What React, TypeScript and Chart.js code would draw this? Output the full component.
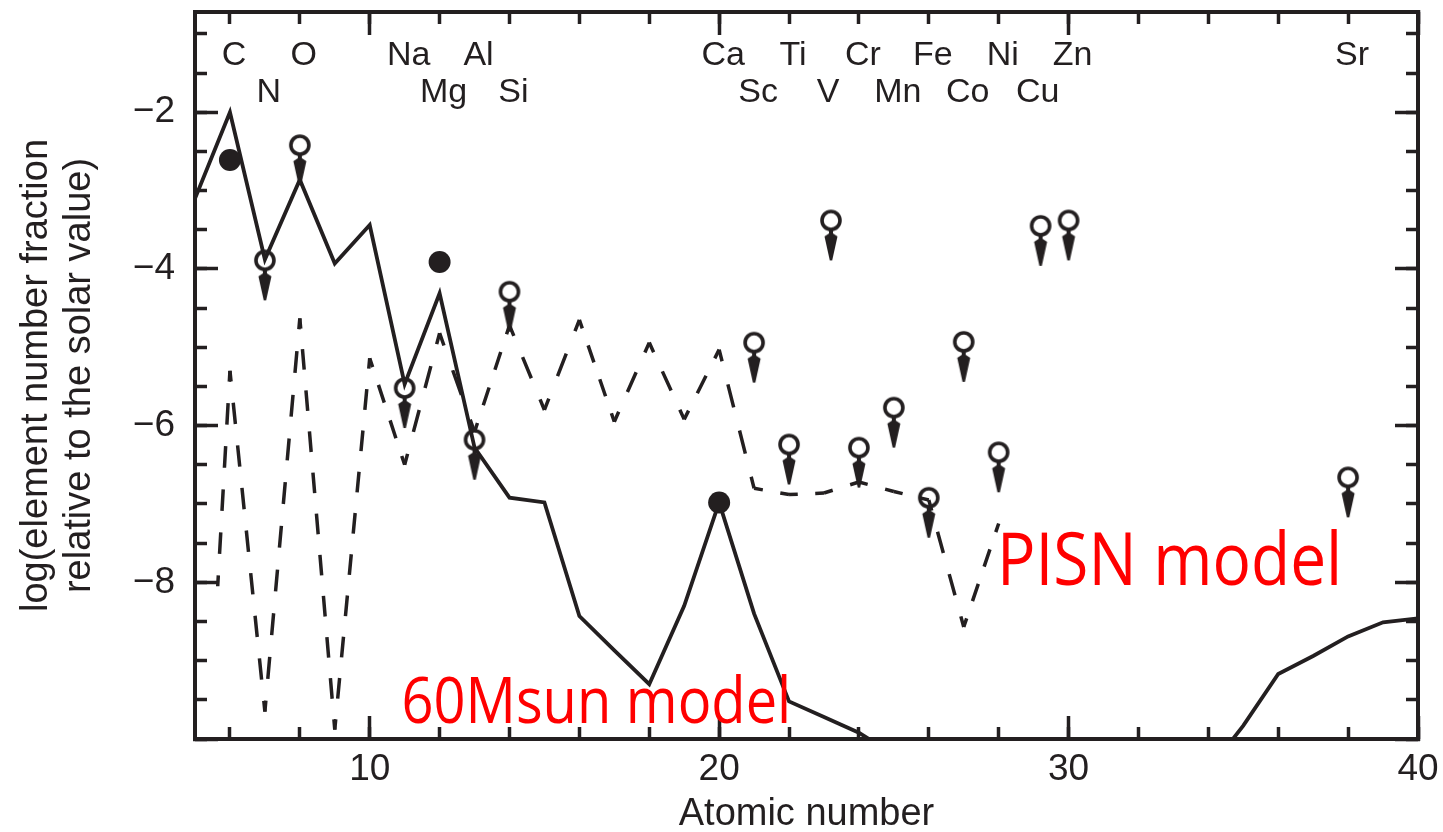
import React, { useEffect, useRef } from 'react';
import { Chart, registerables } from 'chart.js';

Chart.register(...registerables);

const INK = '#231f20';
const RED = '#ff0000';
const FONT = '"Liberation Sans", Arial, Helvetica, sans-serif';
const LABEL_FONT = '"Open Sans", "Noto Sans", sans-serif';

// 60 Msun model (solid line): atomic number vs log abundance
const modelZ = [5, 6, 7, 8, 9, 10, 11, 12, 13, 14, 15, 16, 17, 18, 19, 20, 21, 22, 23, 24, 25, 26, 27, 28, 29, 30, 31, 32, 33, 34, 35, 36, 37, 38, 39, 40];
const modelLogAbund = [-3.1, -2.0, -3.88, -2.86, -3.93, -3.44, -5.47, -4.31, -6.28, -6.92, -6.98, -8.43, -8.87, -9.3, -8.3, -6.98, -8.4, -9.52, -9.72, -9.92, -10.2, null, null, null, null, null, null, null, null, -10.4, -9.83, -9.17, -8.94, -8.69, -8.51, -8.46];

// PISN model (dashed line)
const pisnZ = [5.65, 6, 7, 8, 9, 10, 11, 12, 13, 14, 15, 16, 17, 18, 19, 20, 21, 22, 23, 24, 25, 26, 27, 28];
const pisnLogAbund = [-8.05, -5.3, -9.65, -4.63, -9.88, -5.14, -6.5, -4.82, -6.08, -4.72, -5.8, -4.65, -5.95, -4.94, -5.92, -5.03, -6.8, -6.88, -6.86, -6.72, -6.84, -6.95, -8.57, -7.25];

// Measured abundances (filled circles)
const detectedZ = [6, 12, 20];
const detectedLogAbund = [-2.61, -3.91, -6.98];

// Upper limits (open circles with arrows)
const limitZ = [7, 8, 11, 13, 14, 21, 22, 23.2, 24, 25, 26, 27, 28, 29.2, 30, 38];
const limitLogAbund = [-3.89, -2.42, -5.52, -6.18, -4.29, -4.94, -6.24, -3.38, -6.28, -5.77, -6.92, -4.93, -6.34, -3.45, -3.38, -6.66];

// Element symbol labels along the top
const elementSymbols = ['C', 'N', 'O', 'Na', 'Mg', 'Al', 'Si', 'Ca', 'Sc', 'Ti', 'V', 'Cr', 'Mn', 'Fe', 'Co', 'Ni', 'Cu', 'Zn', 'Sr'];
const elementZ = [6, 7, 8, 11, 12, 13, 14, 20, 21, 22, 23, 24, 25, 26, 27, 28, 29, 30, 38];
const elementRow = [0, 1, 0, 0, 1, 0, 1, 0, 1, 0, 1, 0, 1, 0, 1, 0, 1, 0, 0];

// Model name annotations
const modelNames = ['60Msun model', 'PISN model'];
const modelNameZ = [10.91, 27.95];
const modelNameLogAbund = [-9.8, -8.04];

const ROW_LEVELS = [-1.4, -1.87];
const NAME_SIZES = [56, 64];
const NAME_STRETCH = 1.15;

function makeLimitMarker(): HTMLCanvasElement {
  const c = document.createElement('canvas');
  c.width = 28;
  c.height = 92;
  const g = c.getContext('2d')!;
  const cx = 14;
  const cy = 46;
  g.strokeStyle = INK;
  g.fillStyle = INK;
  g.lineWidth = 3.6;
  g.beginPath();
  g.arc(cx, cy, 9, 0, Math.PI * 2);
  g.stroke();
  g.beginPath();
  g.moveTo(cx - 2, cy + 10);
  g.lineTo(cx + 2, cy + 10);
  g.lineTo(cx + 2, cy + 13);
  g.lineTo(cx + 6.5, cy + 16);
  g.lineTo(cx + 1.2, cy + 40);
  g.lineTo(cx - 1.2, cy + 40);
  g.lineTo(cx - 6.5, cy + 16);
  g.lineTo(cx - 2, cy + 13);
  g.closePath();
  g.fill();
  return c;
}

const DASH_PERIOD = 43;
function segDashParts(c: any) {
  const L = Math.hypot(c.p1.x - c.p0.x, c.p1.y - c.p0.y);
  const n = Math.max(1, Math.round(L / DASH_PERIOD));
  const P = L / n;
  const D = P * 0.5;
  return { D, P };
}

const annotationPlugin = {
  id: 'annotations',
  afterDatasetsDraw(chart: any) {
    const { ctx } = chart;
    const x = chart.scales.x;
    const y = chart.scales.y;
    ctx.save();
    ctx.fillStyle = INK;
    ctx.font = `34px ${FONT}`;
    ctx.textAlign = 'center';
    ctx.textBaseline = 'alphabetic';
    elementSymbols.forEach((s, i) => {
      const px = x.getPixelForValue(elementZ[i]) + 4;
      const py = y.getPixelForValue(ROW_LEVELS[elementRow[i]]);
      ctx.fillText(s, px, py);
    });
    ctx.fillStyle = RED;
    ctx.textAlign = 'left';
    modelNames.forEach((s, i) => {
      const px = x.getPixelForValue(modelNameZ[i]);
      const py = y.getPixelForValue(modelNameLogAbund[i]);
      ctx.save();
      ctx.translate(px, py);
      ctx.scale(1, NAME_STRETCH);
      ctx.font = `${NAME_SIZES[i]}px ${LABEL_FONT}`;
      ctx.fillText(s, 0, 0);
      ctx.restore();
    });
    ctx.restore();
  },
};

const noPad = (s: any) => {
  s.paddingLeft = 0;
  s.paddingRight = 0;
  s.paddingTop = 0;
  s.paddingBottom = 0;
};
const fixW = (w: number) => (s: any) => {
  s.width = w;
  noPad(s);
};
const fixH = (h: number) => (s: any) => {
  s.height = h;
  noPad(s);
};

function frameAxis(axis: 'x' | 'y', position: string, major: boolean, size: number, extra: any = {}) {
  const isX = axis === 'x';
  return {
    type: 'linear',
    axis,
    position,
    weight: major ? 1 : 0,
    min: isX ? 5 : -10,
    max: isX ? 40 : -0.72,
    afterFit: isX ? fixH(size) : fixW(size),
    border: major ? { display: true, width: 4, color: INK } : { display: false },
    grid: {
      drawOnChartArea: false,
      drawTicks: true,
      tickLength: major ? -23 : -12,
      tickWidth: 3.5,
      tickColor: INK,
    },
    ticks: {
      display: false,
      stepSize: isX ? (major ? 10 : 2) : major ? 2 : 0.5,
      includeBounds: false,
      autoSkip: false,
      maxRotation: 0,
      ...(extra.ticks || {}),
    },
    title: extra.title || { display: false },
  };
}

export default function App() {
  const ref = useRef<HTMLCanvasElement>(null);

  useEffect(() => {
    const canvas = ref.current!;
    const marker = makeLimitMarker();

    const chart = new Chart(canvas, {
      type: 'scatter',
      data: {
        datasets: [
          {
            label: 'Upper limits',
            data: limitZ.map((z, i) => ({ x: z, y: limitLogAbund[i] })),
            pointStyle: marker as any,
            pointRadius: 10,
            showLine: false,
          } as any,
          {
            label: 'Detections',
            data: detectedZ.map((z, i) => ({ x: z, y: detectedLogAbund[i] })),
            pointStyle: 'circle',
            pointRadius: 11,
            backgroundColor: INK,
            borderColor: INK,
            borderWidth: 0,
            showLine: false,
          },
          {
            type: 'line',
            label: '60 Msun model',
            data: modelZ.map((z, i) => ({ x: z, y: modelLogAbund[i] })),
            borderColor: INK,
            borderWidth: 3.8,
            pointRadius: 0,
            showLine: true,
            spanGaps: false,
            tension: 0,
            fill: false,
            borderJoinStyle: 'miter',
          } as any,
          {
            type: 'line',
            label: 'PISN model',
            data: pisnZ.map((z, i) => ({ x: z, y: pisnLogAbund[i] })),
            borderColor: INK,
            borderWidth: 3.5,
            pointRadius: 0,
            showLine: true,
            tension: 0,
            fill: false,
            borderDash: [21, 22],
            segment: {
              borderDash: (c: any) => {
                const { D, P } = segDashParts(c);
                return [D, P - D];
              },
              borderDashOffset: (c: any) => segDashParts(c).D / 2,
            },
          } as any,
        ],
      },
      options: {
        responsive: false,
        devicePixelRatio: 1,
        animation: false,
        events: [],
        layout: { padding: 0, autoPadding: false } as any,
        plugins: {
          legend: { display: false },
          tooltip: { enabled: false },
          title: { display: false },
        },
        scales: {
          x: frameAxis('x', 'bottom', true, 93, {
            ticks: {
              display: true,
              padding: 32,
              color: INK,
              font: { family: FONT, size: 37 },
            },
            title: {
              display: true,
              text: 'Atomic number',
              color: INK,
              font: { family: FONT, size: 38, lineHeight: 0.9 },
              padding: { top: 0, bottom: 0 },
            },
          }),
          xMinor: frameAxis('x', 'bottom', false, 0),
          xTop: frameAxis('x', 'top', true, 12),
          xTopMinor: frameAxis('x', 'top', false, 0),
          y: frameAxis('y', 'left', true, 195, {
            ticks: {
              display: true,
              padding: 43,
              color: INK,
              font: { family: FONT, size: 37 },
              callback: (v: any) => (Number(v) === -10 ? '' : '\u2212' + Math.abs(Number(v))),
            },
            title: {
              display: true,
              text: ['log(element number fraction', 'relative to the solar value)'],
              color: INK,
              font: { family: FONT, size: 38, lineHeight: 1.13 },
              padding: { top: 15.5, bottom: 0 },
            },
          }),
          yMinor: frameAxis('y', 'left', false, 0),
          yRight: frameAxis('y', 'right', true, 25),
          yRightMinor: frameAxis('y', 'right', false, 0),
        } as any,
      },
      plugins: [annotationPlugin],
    } as any);

    return () => chart.destroy();
  }, []);

  return (
    <div style={{ position: 'fixed', left: 0, top: 0, width: 1443, height: 832, background: '#ffffff' }}>
      <canvas ref={ref} width={1443} height={832} style={{ display: 'block', width: 1443, height: 832 }} />
    </div>
  );
}
